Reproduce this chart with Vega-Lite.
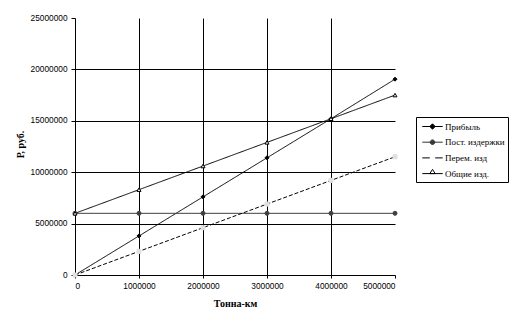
{
  "$schema": "https://vega.github.io/schema/vega-lite/v6.json",
  "autosize": "none",
  "width": 320,
  "height": 257,
  "padding": {"left": 75, "top": 18, "right": 121, "bottom": 47},
  "background": "white",
  "config": {
    "view": {"stroke": null},
    "axis": {"labelFont": "Liberation Sans", "labelFontSize": 8.3, "labelColor": "black", "domainColor": "black", "tickColor": "black", "gridColor": "black", "titleFont": "Liberation Serif", "titleFontSize": 10, "titleFontWeight": "bold", "titleColor": "black"},
    "legend": {"title": null, "orient": "none", "legendX": 341, "legendY": 99, "symbolSize": 144, "symbolOpacity": 1,
      "symbolStrokeWidth": 1, "labelFont": "Liberation Serif", "labelFontSize": 9, "labelColor": "black",
      "strokeColor": "black", "fillColor": "white", "padding": 3, "rowPadding": 3.7, "labelOffset": 6, "symbolOffset": 7}
  },
  "data": {"values": [
    {"x": 0, "v": 0, "s": "Прибыль"},
    {"x": 1000000, "v": 3800000, "s": "Прибыль"},
    {"x": 2000000, "v": 7600000, "s": "Прибыль"},
    {"x": 3000000, "v": 11400000, "s": "Прибыль"},
    {"x": 4000000, "v": 15200000, "s": "Прибыль"},
    {"x": 5000000, "v": 19050000, "s": "Прибыль"},
    {"x": 0, "v": 6000000, "s": "Пост. издержки"},
    {"x": 1000000, "v": 6000000, "s": "Пост. издержки"},
    {"x": 2000000, "v": 6000000, "s": "Пост. издержки"},
    {"x": 3000000, "v": 6000000, "s": "Пост. издержки"},
    {"x": 4000000, "v": 6000000, "s": "Пост. издержки"},
    {"x": 5000000, "v": 6000000, "s": "Пост. издержки"},
    {"x": 0, "v": 0, "s": "Перем. изд"},
    {"x": 1000000, "v": 2300000, "s": "Перем. изд"},
    {"x": 2000000, "v": 4600000, "s": "Перем. изд"},
    {"x": 3000000, "v": 6900000, "s": "Перем. изд"},
    {"x": 4000000, "v": 9200000, "s": "Перем. изд"},
    {"x": 5000000, "v": 11500000, "s": "Перем. изд"},
    {"x": 0, "v": 6000000, "s": "Общие изд."},
    {"x": 1000000, "v": 8300000, "s": "Общие изд."},
    {"x": 2000000, "v": 10600000, "s": "Общие изд."},
    {"x": 3000000, "v": 12900000, "s": "Общие изд."},
    {"x": 4000000, "v": 15200000, "s": "Общие изд."},
    {"x": 5000000, "v": 17500000, "s": "Общие изд."}
  ]},
  "encoding": {
    "x": {"field": "x", "type": "quantitative", "scale": {"domain": [0, 5000000], "nice": false},
      "axis": {"values": [0, 1000000, 2000000, 3000000, 4000000, 5000000], "format": "d", "grid": true,
        "gridOpacity": {"condition": {"test": "datum.value == 0 || datum.value == 5000000", "value": 0}, "value": 1},
        "tickSize": 3, "labelPadding": 3, "title": "Тонна-км", "titleY": 28, "titleBaseline": "middle"}},
    "y": {"field": "v", "type": "quantitative", "scale": {"domain": [0, 25000000], "nice": false},
      "axis": {"values": [0, 5000000, 10000000, 15000000, 20000000, 25000000], "format": "d", "grid": true,
        "gridOpacity": {"condition": {"test": "datum.value == 0 || datum.value == 25000000", "value": 0}, "value": 1},
        "tickSize": 4, "labelPadding": 4, "title": "Р, руб.", "titleX": -55, "titleY": 126, "titleAlign": "center", "titleBaseline": "middle", "titleAngle": -90}}
  },
  "layer": [
    {
      "mark": {"type": "line", "strokeWidth": 1},
      "encoding": {
        "stroke": {"field": "s", "type": "nominal", "legend": null,
          "scale": {"domain": ["Прибыль", "Пост. издержки", "Перем. изд", "Общие изд."], "range": ["black", "#404040", "black", "black"]}},
        "strokeDash": {"field": "s", "type": "nominal", "legend": null,
          "scale": {"domain": ["Прибыль", "Пост. издержки", "Перем. изд", "Общие изд."], "range": [[1, 0], [1, 0], [4, 2], [1, 0]]}}
      }
    },
    {
      "mark": {"type": "point", "filled": false, "size": 16, "strokeWidth": 1, "opacity": 1},
      "encoding": {
        "shape": {"field": "s", "type": "nominal", "legend": null,
          "scale": {"domain": ["Прибыль", "Пост. издержки", "Перем. изд", "Общие изд."], "range": ["diamond", "circle", "square", "triangle-up"]}},
        "fill": {"field": "s", "type": "nominal", "legend": null,
          "scale": {"domain": ["Прибыль", "Пост. издержки", "Перем. изд", "Общие изд."], "range": ["black", "#404040", "#e0e0e0", "white"]}},
        "stroke": {"field": "s", "type": "nominal", "legend": null,
          "scale": {"domain": ["Прибыль", "Пост. издержки", "Перем. изд", "Общие изд."], "range": ["black", "#404040", "#e0e0e0", "black"]}}
      }
    },
    {
      "mark": {"type": "point", "filled": true, "opacity": 0},
      "encoding": {
        "shape": {"field": "s", "type": "nominal",
          "scale": {"domain": ["Прибыль", "Пост. издержки", "Перем. изд", "Общие изд."],
            "range": ["M-1.7,0H1.7M0,-0.45L0.45,0L0,0.45L-0.45,0Z",
                      "M-1.7,0H1.7M-0.38,0A0.38,0.38,0,1,1,0.38,0A0.38,0.38,0,1,1,-0.38,0Z",
                      "M-1.7,0H-0.45M0.45,0H1.7",
                      "M-1.7,0H1.7M0,-0.7L0.45,0H-0.45Z"]}},
        "fill": {"field": "s", "type": "nominal",
          "scale": {"domain": ["Прибыль", "Пост. издержки", "Перем. изд", "Общие изд."], "range": ["black", "#404040", "black", "white"]}},
        "stroke": {"field": "s", "type": "nominal",
          "scale": {"domain": ["Прибыль", "Пост. издержки", "Перем. изд", "Общие изд."], "range": ["black", "#303030", "black", "black"]}}
      }
    }
  ],
  "resolve": {"scale": {"shape": "independent", "fill": "independent", "stroke": "independent"}}
}
